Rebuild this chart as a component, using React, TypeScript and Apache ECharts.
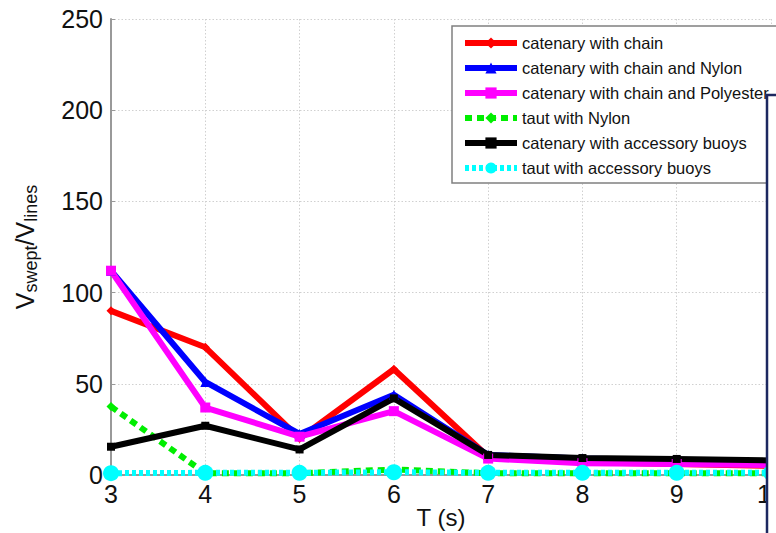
import React, { useEffect, useRef } from "react";
import * as echarts from "echarts";

const periods = [3, 4, 5, 6, 7, 8, 9, 10];
const catenaryChain = [90, 70, 20, 58, 10, 7, 6, 5];
const catenaryNylon = [112, 51, 22.5, 44, 11, 9, 8, 7];
const catenaryPolyester = [112, 37, 21, 35, 9, 6.5, 6, 5.5];
const tautNylon = [37.5, 1, 1, 3, 1, 1, 1, 1];
const catenaryBuoys = [15.5, 27, 14, 42, 11, 9.3, 8.8, 8];
const tautBuoys = [1, 1.2, 1.2, 1.5, 1.2, 1.2, 1.2, 1.2];
const yTicks = { min: 0, max: 250, interval: 50 };

const seriesDefs = [
  { name: "catenary with chain", data: catenaryChain, color: "#ff0000", type: "solid", symbol: "diamond", size: 9 },
  { name: "catenary with chain and Nylon", data: catenaryNylon, color: "#0000ff", type: "solid", symbol: "triangle", size: 10 },
  { name: "catenary with chain and Polyester", data: catenaryPolyester, color: "#ff00ff", type: "solid", symbol: "rect", size: 10 },
  { name: "taut with Nylon", data: tautNylon, color: "#00ee00", type: [7, 5], symbol: "diamond", size: 9 },
  { name: "catenary with accessory buoys", data: catenaryBuoys, color: "#000000", type: "solid", symbol: "rect", size: 8 },
  { name: "taut with accessory buoys", data: tautBuoys, color: "#00ffff", type: [4, 3], symbol: "circle", size: 16 },
];

export default function App() {
  const ref = useRef<HTMLDivElement>(null);
  useEffect(() => {
    if (!ref.current) return;
    const chart = echarts.init(ref.current, undefined, { renderer: "svg" });
    const font = "Liberation Sans, Arial, sans-serif";
    chart.setOption({
      animation: false,
      backgroundColor: "#ffffff",
      grid: { left: 111, right: 5, top: 19, bottom: 58, outerBoundsMode: "none", containLabel: false },
      xAxis: {
        type: "value",
        min: 3,
        max: 10,
        interval: 1,
        name: "T (s)",
        nameLocation: "middle",
        nameGap: 30,
        nameMoveOverlap: false,
        nameTextStyle: { fontSize: 24, color: "#111", fontFamily: font },
        axisLine: { show: true, onZero: false, lineStyle: { color: "#999", width: 2 } },
        axisTick: { show: true, inside: true, length: 4, lineStyle: { color: "#999" } },
        axisLabel: { fontSize: 25, color: "#111", margin: 6, fontFamily: font, hideOverlap: false },
        splitLine: { show: true, lineStyle: { color: "#d0d0d0", type: [1.5, 2], width: 1 } },
      },
      yAxis: {
        type: "value",
        min: yTicks.min,
        max: yTicks.max,
        interval: yTicks.interval,
        name: "{v|V}{sub|swept}{v|/V}{sub|lines}",
        nameLocation: "middle",
        nameGap: 71,
        nameMoveOverlap: false,
        nameTextStyle: {
          fontFamily: font,
          color: "#111",
          rich: {
            v: { fontSize: 25, lineHeight: 30, fontFamily: font, color: "#111" },
            sub: { fontSize: 18, lineHeight: 30, verticalAlign: "bottom", fontFamily: font, color: "#111", padding: [12, 0, 0, 0] },
          },
        },
        axisLine: { show: true, lineStyle: { color: "#999", width: 2 } },
        axisTick: { show: true, inside: true, length: 4, lineStyle: { color: "#999" } },
        axisLabel: { fontSize: 25, color: "#111", margin: 8, fontFamily: font },
        splitLine: { show: true, lineStyle: { color: "#d0d0d0", type: [1.5, 2], width: 1 } },
      },
      legend: {
        orient: "vertical",
        left: 452,
        top: 26,
        padding: [8, 10, 8, 10],
        itemWidth: 52,
        itemHeight: 14,
        itemGap: 7,
        z: 6,
        textStyle: { fontSize: 16.5, lineHeight: 18, color: "#111", fontFamily: font },
        data: seriesDefs.map((s) => ({
          name: s.name,
          lineStyle: { width: 6, color: s.color, type: s.type },
          itemStyle: { color: s.color },
        })),
      },
      graphic: [
        {
          type: "rect",
          z: 5,
          shape: { x: 452, y: 26, width: 400, height: 157 },
          style: { fill: "#ffffff", stroke: "#808080", lineWidth: 1.5 },
        },
        {
          type: "rect",
          z: 100,
          shape: { x: 767, y: 95, width: 40, height: 460 },
          style: { fill: "#ffffff", stroke: "#1c2860", lineWidth: 2.5 },
        },
      ],
      series: seriesDefs.map((s) => ({
        name: s.name,
        type: "line",
        data: periods.map((p, i) => [p, s.data[i]]),
        symbol: s.symbol,
        symbolSize: s.size,
        color: s.color,
        lineStyle: { color: s.color, width: 6, type: s.type },
        itemStyle: { color: s.color },
        z: 2,
      })),
    });
    return () => chart.dispose();
  }, []);
  return <div ref={ref} style={{ position: "fixed", left: 0, top: 0, width: 776, height: 533 }} />;
}
